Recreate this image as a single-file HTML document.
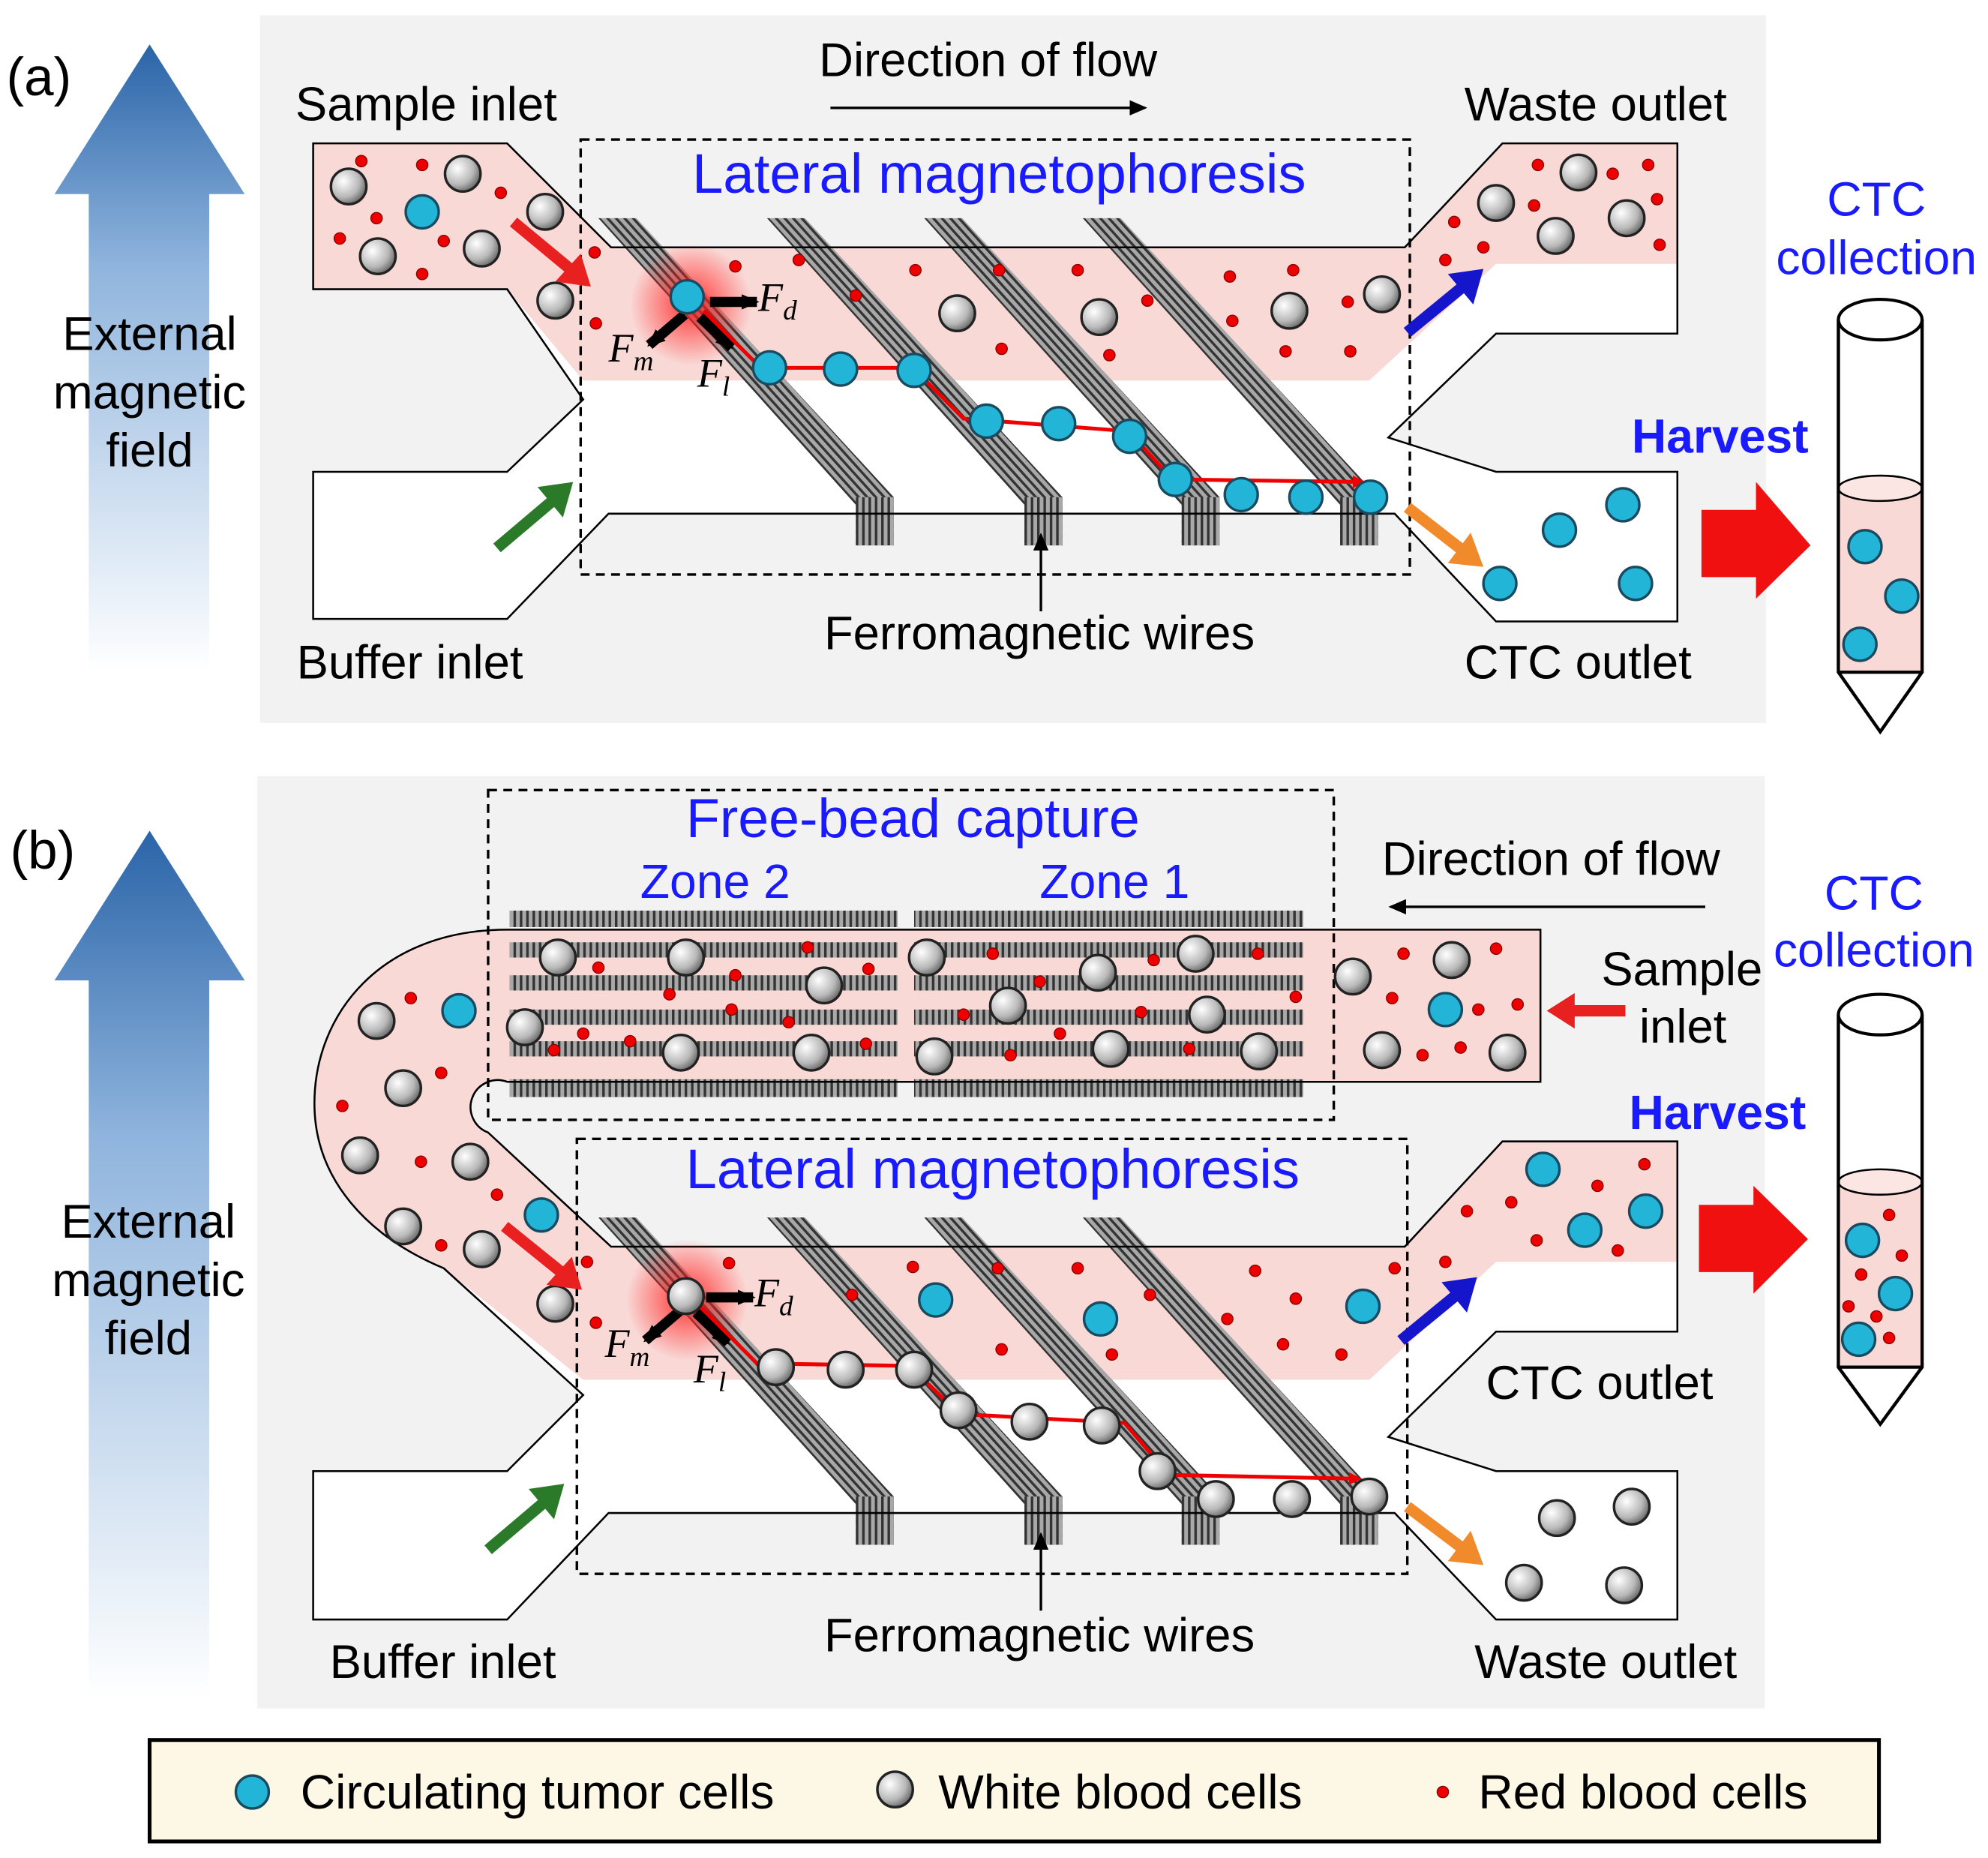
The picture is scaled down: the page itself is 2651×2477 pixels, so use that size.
<!DOCTYPE html>
<html><head><meta charset="utf-8"><style>
html,body{margin:0;padding:0;background:#fff}
svg{display:block}
text{font-family:"Liberation Sans",sans-serif}
.l{font-size:37.5px;fill:#000}
.b{fill:#1a1aff}
.f{font-family:"Liberation Serif",serif;font-style:italic;font-size:32px}
</style></head><body>
<svg width="2651" height="2477" viewBox="0 0 1568 1465" xmlns="http://www.w3.org/2000/svg">
<defs>
<linearGradient id="ga" x1="0" y1="0" x2="0" y2="1">
<stop offset="0" stop-color="#2a64a8"/><stop offset="0.35" stop-color="#8fb4dd"/><stop offset="1" stop-color="#ffffff"/></linearGradient>
<radialGradient id="gw" cx="0.35" cy="0.35" r="0.75"><stop offset="0" stop-color="#ffffff"/><stop offset="0.6" stop-color="#b8b8b8"/><stop offset="1" stop-color="#555"/></radialGradient>
<radialGradient id="glow"><stop offset="0" stop-color="#ff2020" stop-opacity="0.9"/><stop offset="1" stop-color="#ff2020" stop-opacity="0"/></radialGradient>
<pattern id="hd" width="5" height="5" patternUnits="userSpaceOnUse" patternTransform="rotate(-42)"><rect width="5" height="5" fill="#a8a8a8"/><rect width="2" height="5" fill="#333"/></pattern>
<pattern id="hv" width="5" height="5" patternUnits="userSpaceOnUse"><rect width="5" height="5" fill="#a8a8a8"/><rect width="2" height="5" fill="#333"/></pattern>
<symbol id="w" overflow="visible"><circle r="14" fill="url(#gw)" stroke="#222" stroke-width="2"/></symbol>
<symbol id="c" overflow="visible"><circle r="13" fill="#22b5d8" stroke="#1a4a60" stroke-width="2"/></symbol>
<symbol id="r" overflow="visible"><circle r="4.5" fill="#e00" stroke="#800" stroke-width="0.8"/></symbol>
<marker id="ah" markerWidth="10" markerHeight="10" refX="8" refY="5" orient="auto" markerUnits="userSpaceOnUse"><path d="M0,0 L10,5 L0,10 Z" fill="#e00"/></marker>
<marker id="ak" markerWidth="14" markerHeight="12" refX="12" refY="6" orient="auto" markerUnits="userSpaceOnUse"><path d="M0,0 L14,6 L0,12 Z" fill="#000"/></marker>
<g id="wires">
<polygon points="472,172 502,172 705,392 705,430 675,430 675,398" fill="url(#hd)"/>
<rect x="675" y="392" width="30" height="38" fill="url(#hv)"/>
<g transform="translate(133,0)"><polygon points="472,172 502,172 705,392 705,430 675,430 675,398" fill="url(#hd)"/><rect x="675" y="392" width="30" height="38" fill="url(#hv)"/></g>
<g transform="translate(257,0)"><polygon points="472,172 502,172 705,392 705,430 675,430 675,398" fill="url(#hd)"/><rect x="675" y="392" width="30" height="38" fill="url(#hv)"/></g>
<g transform="translate(382,0)"><polygon points="472,172 502,172 705,392 705,430 675,430 675,398" fill="url(#hd)"/><rect x="675" y="392" width="30" height="38" fill="url(#hv)"/></g>
</g>
<g id="forces">
<circle cx="545" cy="240" r="48" fill="url(#glow)"/>
<line x1="560" y1="238" x2="597" y2="238" stroke="#000" stroke-width="8" marker-end="url(#ak)"/>
<line x1="540" y1="248" x2="512" y2="272" stroke="#000" stroke-width="8" marker-end="url(#ak)"/>
<line x1="552" y1="250" x2="577" y2="274" stroke="#000" stroke-width="8" marker-end="url(#ak)"/>
</g>
</defs>

<rect x="205" y="12" width="1188" height="558" fill="#f2f2f2"/>
<rect x="203" y="612" width="1189" height="735" fill="#f2f2f2"/>

<polygon points="118,35 193,153 165,153 165,530 70,530 70,153 43,153" fill="url(#ga)"/>
<polygon points="118,655 193,773 165,773 165,1340 70,1340 70,773 43,773" fill="url(#ga)"/>

<polygon points="247,113 400,113 482,195 1108,195 1185,113 1323,113 1323,263 1180,263 1095,345 1180,372 1323,372 1323,490 1180,490 1100,405 480,405 400,488 247,488 247,372 400,372 460,315 400,228 247,228" fill="#fff"/>
<polygon points="247,113 400,113 482,195 1108,195 1185,113 1323,113 1323,208 1180,208 1080,300 460,300 400,228 247,228" fill="#f9d9d6"/>
<use href="#wires"/>
<polygon points="247,113 400,113 482,195 1108,195 1185,113 1323,113 1323,263 1180,263 1095,345 1180,372 1323,372 1323,490 1180,490 1100,405 480,405 400,488 247,488 247,372 400,372 460,315 400,228 247,228" fill="none" stroke="#000" stroke-width="1.5"/>
<rect x="458" y="110" width="654" height="343" fill="none" stroke="#000" stroke-width="2" stroke-dasharray="7,5"/>
<use href="#forces"/>
<polyline points="555,245 600,290 720,290 760,330 890,340 925,378 1075,380" fill="none" stroke="#e00" stroke-width="3" marker-end="url(#ah)"/>
<g>
<use href="#r" x="285" y="127"/><use href="#r" x="333" y="130"/><use href="#r" x="395" y="152"/><use href="#r" x="268" y="188"/><use href="#r" x="297" y="172"/><use href="#r" x="350" y="190"/><use href="#r" x="333" y="216"/><use href="#r" x="469" y="199"/><use href="#r" x="470" y="255"/><use href="#r" x="580" y="210"/><use href="#r" x="630" y="205"/><use href="#r" x="675" y="233"/><use href="#r" x="722" y="213"/><use href="#r" x="788" y="213"/><use href="#r" x="790" y="275"/><use href="#r" x="850" y="213"/><use href="#r" x="875" y="280"/><use href="#r" x="905" y="237"/><use href="#r" x="970" y="218"/><use href="#r" x="972" y="253"/><use href="#r" x="1020" y="213"/><use href="#r" x="1014" y="277"/><use href="#r" x="1065" y="277"/><use href="#r" x="1063" y="238"/><use href="#r" x="1140" y="205"/><use href="#r" x="1170" y="195"/><use href="#r" x="1147" y="175"/><use href="#r" x="1213" y="130"/><use href="#r" x="1210" y="162"/><use href="#r" x="1272" y="137"/><use href="#r" x="1300" y="130"/><use href="#r" x="1307" y="157"/><use href="#r" x="1309" y="193"/>
<use href="#w" x="275" y="147"/><use href="#w" x="365" y="137"/><use href="#w" x="430" y="167"/><use href="#w" x="298" y="202"/><use href="#w" x="380" y="196"/><use href="#w" x="438" y="237"/><use href="#w" x="755" y="247"/><use href="#w" x="867" y="250"/><use href="#w" x="1017" y="245"/><use href="#w" x="1090" y="232"/><use href="#w" x="1180" y="160"/><use href="#w" x="1245" y="136"/><use href="#w" x="1283" y="172"/><use href="#w" x="1227" y="186"/>
<use href="#c" x="333" y="167"/><use href="#c" x="542" y="234"/><use href="#c" x="607" y="290"/><use href="#c" x="663" y="291"/><use href="#c" x="721" y="292"/><use href="#c" x="778" y="332"/><use href="#c" x="835" y="334"/><use href="#c" x="891" y="344"/><use href="#c" x="927" y="378"/><use href="#c" x="979" y="390"/><use href="#c" x="1030" y="392"/><use href="#c" x="1081" y="392"/><use href="#c" x="1183" y="460"/><use href="#c" x="1230" y="418"/><use href="#c" x="1280" y="398"/><use href="#c" x="1290" y="460"/>
</g>
<line x1="405" y1="175" x2="452" y2="214" stroke="#e82020" stroke-width="9"/><polygon points="466,226 438,222 458,200" fill="#e82020"/>
<line x1="1110" y1="262" x2="1155" y2="225" stroke="#1515cc" stroke-width="9"/><polygon points="1170,212 1162,240 1142,216" fill="#1515cc"/>
<line x1="392" y1="432" x2="438" y2="393" stroke="#2a7a2a" stroke-width="9"/><polygon points="452,380 444,408 424,384" fill="#2a7a2a"/>
<line x1="1110" y1="400" x2="1155" y2="435" stroke="#f08a2a" stroke-width="9"/><polygon points="1170,447 1142,444 1160,420" fill="#f08a2a"/>
<polygon points="1342,402 1385,402 1385,380 1428,430 1385,472 1385,455 1342,455" fill="#f01010"/>
<path d="M1450,252 L1450,530 L1483,577 L1516,530 L1516,252" fill="#fff" stroke="#000" stroke-width="2.5"/>
<path d="M1450,385 L1450,530 L1516,530 L1516,385 Z" fill="#f9d9d6"/>
<ellipse cx="1483" cy="385" rx="33" ry="10" fill="#fbe6e4" stroke="#000" stroke-width="1.5"/>
<path d="M1450,252 L1450,530 L1483,577 L1516,530 L1516,252 M1450,530 L1516,530" fill="none" stroke="#000" stroke-width="2.5"/>
<ellipse cx="1483" cy="252" rx="33" ry="16" fill="#fff" stroke="#000" stroke-width="2.5"/>
<use href="#c" x="1471" y="431"/><use href="#c" x="1500" y="470"/><use href="#c" x="1467" y="508"/>

<text x="5" y="75" font-size="42">(a)</text>
<text class="l" x="233" y="95">Sample inlet</text>
<text class="l" x="646" y="60">Direction of flow</text>
<line x1="655" y1="85" x2="903" y2="85" stroke="#000" stroke-width="2" marker-end="url(#ak)"/>
<text class="l" x="1155" y="95">Waste outlet</text>
<text class="b" x="788" y="152" font-size="44" text-anchor="middle">Lateral magnetophoresis</text>
<text class="b" x="1480" y="170" font-size="38" text-anchor="middle">CTC</text>
<text class="b" x="1480" y="216" font-size="38" text-anchor="middle">collection</text>
<text class="b" x="1287" y="357" font-size="38" font-weight="bold">Harvest</text>
<text class="l" x="118" y="276" text-anchor="middle">External</text>
<text class="l" x="118" y="322" text-anchor="middle">magnetic</text>
<text class="l" x="118" y="368" text-anchor="middle">field</text>
<text class="l" x="234" y="535">Buffer inlet</text>
<text class="l" x="650" y="512">Ferromagnetic wires</text>
<line x1="821" y1="482" x2="821" y2="422" stroke="#000" stroke-width="2" marker-end="url(#ak)"/>
<text class="l" x="1155" y="535">CTC outlet</text>
<text class="f" x="598" y="245">F<tspan font-size="22" dy="7">d</tspan></text>
<text class="f" x="480" y="285">F<tspan font-size="22" dy="7">m</tspan></text>
<text class="f" x="550" y="305">F<tspan font-size="22" dy="7">l</tspan></text>

<path d="M1215,733 L400,733 C300,733 248,800 248,870 C248,930 290,975 350,1000 L460,1100 L400,1160 L247,1160 L247,1277 L400,1277 L480,1193 L1100,1193 L1180,1277 L1323,1277 L1323,1160 L1180,1160 L1095,1133 L1180,1050 L1323,1050 L1323,900 L1185,900 L1108,983 L482,983 L385,893 A19,19 0 0 1 400,853 L1215,853 Z" fill="#fff"/>
<path d="M1215,733 L400,733 C300,733 248,800 248,870 C248,930 290,975 350,1000 L460,1088 L1080,1088 L1180,995 L1323,995 L1323,900 L1185,900 L1108,983 L482,983 L385,893 A19,19 0 0 1 400,853 L1215,853 Z" fill="#f9d9d6"/>
<g transform="translate(0,788)"><use href="#wires"/></g>
<g fill="url(#hv)">
<rect x="402" y="718" width="306" height="13"/><rect x="402" y="743" width="306" height="12"/><rect x="402" y="769" width="306" height="12"/><rect x="402" y="796" width="306" height="12"/><rect x="402" y="821" width="306" height="12"/><rect x="402" y="851" width="306" height="14"/>
<rect x="721" y="718" width="307" height="13"/><rect x="721" y="743" width="307" height="12"/><rect x="721" y="769" width="307" height="12"/><rect x="721" y="796" width="307" height="12"/><rect x="721" y="821" width="307" height="12"/><rect x="721" y="851" width="307" height="14"/>
</g>
<path d="M1215,733 L400,733 C300,733 248,800 248,870 C248,930 290,975 350,1000 L460,1100 L400,1160 L247,1160 L247,1277 L400,1277 L480,1193 L1100,1193 L1180,1277 L1323,1277 L1323,1160 L1180,1160 L1095,1133 L1180,1050 L1323,1050 L1323,900 L1185,900 L1108,983 L482,983 L385,893 A19,19 0 0 1 400,853 L1215,853 Z" fill="none" stroke="#000" stroke-width="1.5"/>
<rect x="385" y="623" width="667" height="260" fill="none" stroke="#000" stroke-width="2" stroke-dasharray="7,5"/>
<rect x="455" y="898" width="655" height="343" fill="none" stroke="#000" stroke-width="2" stroke-dasharray="7,5"/>
<g transform="translate(-3,785)"><use href="#forces"/></g>
<polyline points="552,1030 597,1075 717,1077 757,1115 887,1122 922,1163 1072,1166" fill="none" stroke="#e00" stroke-width="3" marker-end="url(#ah)"/>
<g>
<use href="#r" x="472" y="763"/><use href="#r" x="580" y="769"/><use href="#r" x="637" y="747"/><use href="#r" x="685" y="764"/><use href="#r" x="528" y="784"/><use href="#r" x="460" y="815"/><use href="#r" x="577" y="796"/><use href="#r" x="622" y="806"/><use href="#r" x="437" y="828"/><use href="#r" x="497" y="821"/><use href="#r" x="683" y="823"/><use href="#r" x="783" y="752"/><use href="#r" x="820" y="774"/><use href="#r" x="910" y="757"/><use href="#r" x="992" y="752"/><use href="#r" x="760" y="800"/><use href="#r" x="900" y="798"/><use href="#r" x="1022" y="786"/><use href="#r" x="836" y="815"/><use href="#r" x="797" y="832"/><use href="#r" x="938" y="827"/><use href="#r" x="1107" y="752"/><use href="#r" x="1180" y="748"/><use href="#r" x="1098" y="787"/><use href="#r" x="1166" y="796"/><use href="#r" x="1197" y="792"/><use href="#r" x="1122" y="832"/><use href="#r" x="1152" y="826"/>
<use href="#r" x="324" y="787"/><use href="#r" x="348" y="846"/><use href="#r" x="270" y="872"/><use href="#r" x="332" y="916"/><use href="#r" x="348" y="982"/><use href="#r" x="392" y="942"/><use href="#r" x="463" y="995"/><use href="#r" x="470" y="1043"/><use href="#r" x="575" y="996"/><use href="#r" x="672" y="1021"/><use href="#r" x="720" y="999"/><use href="#r" x="787" y="1000"/><use href="#r" x="790" y="1064"/><use href="#r" x="850" y="1000"/><use href="#r" x="877" y="1068"/><use href="#r" x="907" y="1021"/><use href="#r" x="968" y="1040"/><use href="#r" x="990" y="1002"/><use href="#r" x="1022" y="1024"/><use href="#r" x="1012" y="1060"/><use href="#r" x="1058" y="1068"/><use href="#r" x="1100" y="1000"/><use href="#r" x="1140" y="995"/><use href="#r" x="1157" y="955"/><use href="#r" x="1192" y="948"/><use href="#r" x="1212" y="978"/><use href="#r" x="1260" y="935"/><use href="#r" x="1276" y="986"/><use href="#r" x="1297" y="918"/>
<use href="#w" x="440" y="755"/><use href="#w" x="541" y="755"/><use href="#w" x="650" y="777"/><use href="#w" x="414" y="810"/><use href="#w" x="537" y="830"/><use href="#w" x="640" y="830"/><use href="#w" x="731" y="755"/><use href="#w" x="866" y="767"/><use href="#w" x="943" y="752"/><use href="#w" x="795" y="793"/><use href="#w" x="952" y="800"/><use href="#w" x="737" y="833"/><use href="#w" x="876" y="827"/><use href="#w" x="993" y="829"/><use href="#w" x="1067" y="770"/><use href="#w" x="1145" y="757"/><use href="#w" x="1090" y="828"/><use href="#w" x="1189" y="830"/>
<use href="#w" x="297" y="805"/><use href="#w" x="318" y="858"/><use href="#w" x="284" y="911"/><use href="#w" x="371" y="916"/><use href="#w" x="318" y="967"/><use href="#w" x="380" y="985"/><use href="#w" x="438" y="1028"/>
<use href="#w" x="541" y="1022"/><use href="#w" x="612" y="1078"/><use href="#w" x="667" y="1080"/><use href="#w" x="721" y="1080"/><use href="#w" x="756" y="1112"/><use href="#w" x="812" y="1121"/><use href="#w" x="869" y="1124"/><use href="#w" x="913" y="1160"/><use href="#w" x="959" y="1182"/><use href="#w" x="1019" y="1182"/><use href="#w" x="1080" y="1180"/>
<use href="#w" x="1228" y="1197"/><use href="#w" x="1287" y="1188"/><use href="#w" x="1202" y="1248"/><use href="#w" x="1281" y="1250"/>
<use href="#c" x="1140" y="796"/><use href="#c" x="362" y="797"/><use href="#c" x="427" y="958"/><use href="#c" x="738" y="1025"/><use href="#c" x="868" y="1040"/><use href="#c" x="1075" y="1030"/><use href="#c" x="1217" y="922"/><use href="#c" x="1250" y="970"/><use href="#c" x="1298" y="955"/>
</g>
<line x1="398" y1="967" x2="445" y2="1005" stroke="#e82020" stroke-width="9"/><polygon points="459,1017 431,1013 451,991" fill="#e82020"/>
<line x1="1105" y1="1057" x2="1150" y2="1020" stroke="#1515cc" stroke-width="9"/><polygon points="1165,1007 1157,1035 1137,1011" fill="#1515cc"/>
<line x1="385" y1="1222" x2="431" y2="1183" stroke="#2a7a2a" stroke-width="9"/><polygon points="445,1170 437,1198 417,1174" fill="#2a7a2a"/>
<line x1="1110" y1="1188" x2="1155" y2="1222" stroke="#f08a2a" stroke-width="9"/><polygon points="1170,1234 1142,1231 1160,1207" fill="#f08a2a"/>
<line x1="1282" y1="797" x2="1240" y2="797" stroke="#e82020" stroke-width="9"/><polygon points="1220,797 1242,783 1242,811" fill="#e82020"/>
<polygon points="1340,950 1383,950 1383,935 1426,977 1383,1020 1383,1003 1340,1003" fill="#f01010"/>
<path d="M1450,800 L1450,1078 L1483,1123 L1516,1078 L1516,800" fill="#fff" stroke="#000" stroke-width="2.5"/>
<path d="M1450,932 L1450,1078 L1516,1078 L1516,932 Z" fill="#f9d9d6"/>
<ellipse cx="1483" cy="932" rx="33" ry="10" fill="#fbe6e4" stroke="#000" stroke-width="1.5"/>
<path d="M1450,800 L1450,1078 L1483,1123 L1516,1078 L1516,800 M1450,1078 L1516,1078" fill="none" stroke="#000" stroke-width="2.5"/>
<ellipse cx="1483" cy="800" rx="33" ry="16" fill="#fff" stroke="#000" stroke-width="2.5"/>
<use href="#r" x="1490" y="958"/><use href="#r" x="1468" y="1005"/><use href="#r" x="1480" y="1038"/><use href="#r" x="1458" y="1030"/><use href="#r" x="1490" y="1055"/><use href="#r" x="1500" y="990"/>
<use href="#c" x="1469" y="978"/><use href="#c" x="1495" y="1020"/><use href="#c" x="1466" y="1056"/>

<text x="8" y="685" font-size="42">(b)</text>
<text class="b" x="720" y="660" font-size="43.5" text-anchor="middle">Free-bead capture</text>
<text class="b" x="505" y="708" font-size="38">Zone 2</text>
<text class="b" x="820" y="708" font-size="38">Zone 1</text>
<text class="l" x="1090" y="690">Direction of flow</text>
<line x1="1345" y1="715" x2="1097" y2="715" stroke="#000" stroke-width="2" marker-end="url(#ak)"/>
<text class="l" x="1263" y="777">Sample</text>
<text class="l" x="1293" y="822">inlet</text>
<text class="b" x="1478" y="717" font-size="38" text-anchor="middle">CTC</text>
<text class="b" x="1478" y="762" font-size="38" text-anchor="middle">collection</text>
<text class="b" x="1285" y="890" font-size="38" font-weight="bold">Harvest</text>
<text class="b" x="783" y="937" font-size="44" text-anchor="middle">Lateral magnetophoresis</text>
<text class="l" x="117" y="976" text-anchor="middle">External</text>
<text class="l" x="117" y="1022" text-anchor="middle">magnetic</text>
<text class="l" x="117" y="1068" text-anchor="middle">field</text>
<text class="l" x="1172" y="1103">CTC outlet</text>
<text class="l" x="650" y="1302">Ferromagnetic wires</text>
<line x1="821" y1="1270" x2="821" y2="1210" stroke="#000" stroke-width="2" marker-end="url(#ak)"/>
<text class="l" x="260" y="1323">Buffer inlet</text>
<text class="l" x="1163" y="1323">Waste outlet</text>
<text class="f" x="595" y="1030">F<tspan font-size="22" dy="7">d</tspan></text>
<text class="f" x="477" y="1070">F<tspan font-size="22" dy="7">m</tspan></text>
<text class="f" x="547" y="1090">F<tspan font-size="22" dy="7">l</tspan></text>

<rect x="118" y="1372" width="1364" height="80" fill="#fdf8e6" stroke="#000" stroke-width="3"/>
<use href="#c" x="199" y="1413"/>
<text x="237" y="1426" font-size="38">Circulating tumor cells</text>
<use href="#w" x="706" y="1411"/>
<text x="740" y="1426" font-size="38">White blood cells</text>
<use href="#r" x="1138" y="1413"/>
<text x="1166" y="1426" font-size="38">Red blood cells</text>
</svg>
</body></html>
